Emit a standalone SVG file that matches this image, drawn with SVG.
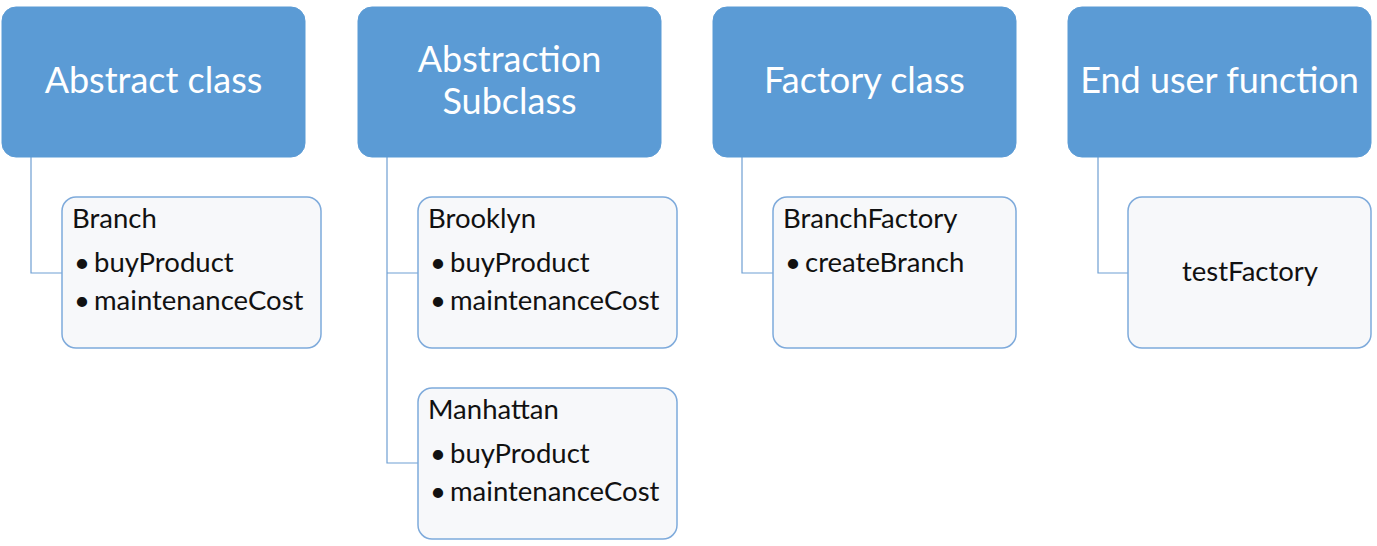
<svg xmlns="http://www.w3.org/2000/svg" width="1377" height="546" viewBox="0 0 1377 546">
<style>
.hdr{fill:#5b9bd5;stroke:#5b9bd5;stroke-width:1}
.ht{font-family:Lato,"Open Sans",sans-serif;font-size:36px;fill:#ffffff;text-anchor:middle}
.box{fill:#f7f8fa;stroke:#7eaadb;stroke-width:1.5}
.t{font-family:Lato,"Open Sans",sans-serif;font-size:27.5px;fill:#111111}
.con{fill:none;stroke:#6f9fd3;stroke-width:1.2}
</style>
<rect width="1377" height="546" fill="#ffffff"/>
<g id="connectors">
<path class="con" d="M31 157 V273 H62"/>
<path class="con" d="M387 157 V463 H418 M387 273 H418"/>
<path class="con" d="M742 157 V273 H773"/>
<path class="con" d="M1098 157 V273 H1128"/>
</g>
<g id="abstract-class">
<rect class="hdr" x="2" y="7" width="303" height="150" rx="14"/>
<text class="ht" x="153.5" y="93">Abstract class</text>
</g>
<g id="abstraction-subclass">
<rect class="hdr" x="358" y="7" width="303" height="150" rx="14"/>
<text class="ht" x="509.5" y="72">Abstraction</text>
<text class="ht" x="509.5" y="114">Subclass</text>
</g>
<g id="factory-class">
<rect class="hdr" x="713" y="7" width="303" height="150" rx="14"/>
<text class="ht" x="864.5" y="93">Factory class</text>
</g>
<g id="end-user-function">
<rect class="hdr" x="1068" y="7" width="303" height="150" rx="14"/>
<text class="ht" x="1219.5" y="93">End user function</text>
</g>
<g id="branch">
<rect class="box" x="62" y="197" width="259" height="151" rx="14"/>
<text class="t" x="72" y="228">Branch</text>
<text class="t" x="74" y="272">•</text><text class="t" x="94" y="272">buyProduct</text>
<text class="t" x="74" y="310">•</text><text class="t" x="94" y="310">maintenanceCost</text>
</g>
<g id="brooklyn">
<rect class="box" x="418" y="197" width="259" height="151" rx="14"/>
<text class="t" x="428" y="228">Brooklyn</text>
<text class="t" x="430" y="272">•</text><text class="t" x="450" y="272">buyProduct</text>
<text class="t" x="430" y="310">•</text><text class="t" x="450" y="310">maintenanceCost</text>
</g>
<g id="manhattan">
<rect class="box" x="418" y="388" width="259" height="151" rx="14"/>
<text class="t" x="428" y="419">Manhattan</text>
<text class="t" x="430" y="463">•</text><text class="t" x="450" y="463">buyProduct</text>
<text class="t" x="430" y="501">•</text><text class="t" x="450" y="501">maintenanceCost</text>
</g>
<g id="branchfactory">
<rect class="box" x="773" y="197" width="243" height="151" rx="14"/>
<text class="t" x="783" y="228">BranchFactory</text>
<text class="t" x="785" y="272">•</text><text class="t" x="805" y="272">createBranch</text>
</g>
<g id="testfactory">
<rect class="box" x="1128" y="197" width="243" height="151" rx="14"/>
<text class="t" x="1250" y="281" text-anchor="middle">testFactory</text>
</g>
</svg>
